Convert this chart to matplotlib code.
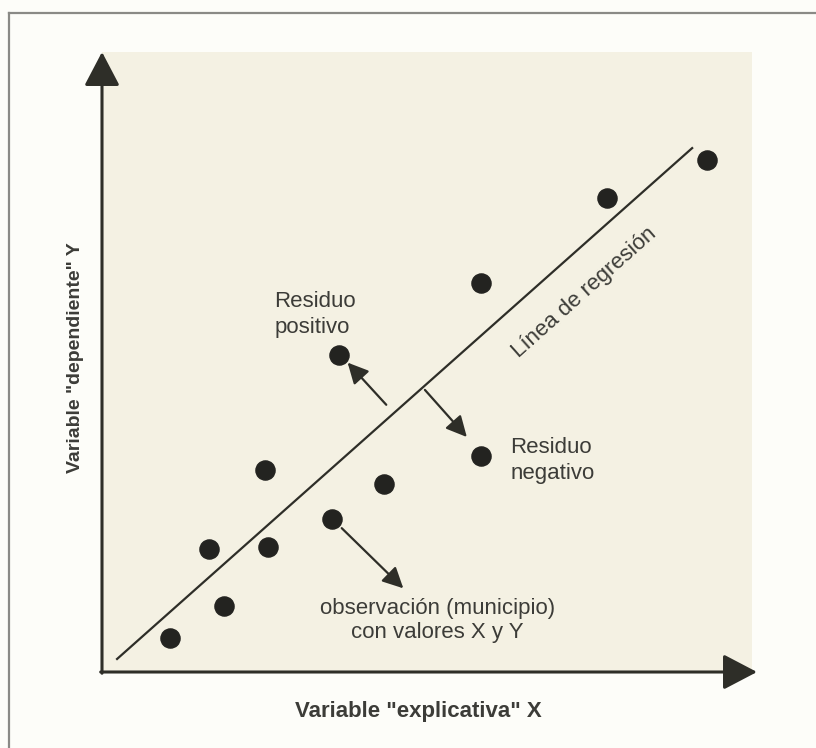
import matplotlib.pyplot as plt
from matplotlib.patches import Rectangle
from matplotlib.lines import Line2D

# observations (municipios), in axis units 0-10
obs_x = [1.04, 1.86, 1.63, 2.53, 2.49, 3.51, 4.31, 3.62, 5.79, 5.79, 7.71, 9.24]
obs_y = [0.55, 1.06, 1.98, 2.02, 3.26, 2.47, 3.03, 5.11, 3.48, 6.27, 7.65, 8.26]

# regression line end points
reg_x = [0.23, 9.01]
reg_y = [0.21, 8.45]

ink = '#2e2e28'
text_c = '#3c3c38'

plt.rcParams['font.family'] = ['Liberation Sans', 'DejaVu Sans']

fig = plt.figure(figsize=(8.16, 7.48), dpi=100, facecolor='#fdfdf9')
ax = fig.add_axes([102 / 816, 76 / 748, 655 / 816, 620 / 748])
ax.set_xlim(0, 10)
ax.set_ylim(0, 10)
ax.axis('off')

# outer frame (only top and left edges visible)
fig.add_artist(Line2D([9 / 816, 1.0], [1 - 13 / 748] * 2, color='#8a8a86', lw=1.6))
fig.add_artist(Line2D([9 / 816] * 2, [0.0, 1 - 13 / 748], color='#8a8a86', lw=1.6))

# beige panel
ax.add_patch(Rectangle((0, 0), 9.93, 10, facecolor='#f4f1e3', edgecolor='none', zorder=0))

# axes with arrow heads
big = dict(arrowstyle='-|>,head_length=1.05,head_width=0.55', color=ink, lw=2.2,
           mutation_scale=20, shrinkA=0, shrinkB=0)
ax.annotate('', xy=(10, 0), xytext=(-0.02, 0), arrowprops=big)
ax.annotate('', xy=(0, 10), xytext=(0, -0.02), arrowprops=big)

# regression line and points
ax.plot(reg_x, reg_y, color=ink, lw=1.6, zorder=2)
ax.scatter(obs_x, obs_y, s=190, color='#232320', zorder=3)

small = dict(arrowstyle='-|>,head_length=0.9,head_width=0.45', color=ink, lw=1.6,
             mutation_scale=14, shrinkA=0, shrinkB=0)
ax.annotate('', xy=(3.75, 4.99), xytext=(4.34, 4.31), arrowprops=small)
ax.annotate('', xy=(5.57, 3.79), xytext=(4.93, 4.55), arrowprops=small)
ax.annotate('', xy=(4.60, 1.35), xytext=(3.66, 2.32), arrowprops=small)

fs = 16
ax.text(2.63, 5.76, 'Residuo\npositivo', fontsize=fs, color=text_c, ha='left', va='center',
        linespacing=1.3)
ax.text(6.23, 3.41, 'Residuo\nnegativo', fontsize=fs, color=text_c, ha='left', va='center',
        linespacing=1.3)
ax.text(5.12, 0.83, 'observación (municipio)\ncon valores X y Y', fontsize=fs, color=text_c,
        ha='center', va='center', linespacing=1.2)
ax.text(7.37, 6.12, 'Línea de regresión', fontsize=fs, color=text_c, ha='center', va='center',
        rotation=41.6, rotation_mode='anchor')

fig.text(418 / 816, 1 - 712 / 748, 'Variable "explicativa" X', fontsize=16, fontweight='bold',
         color=text_c, ha='center', va='center')
fig.text(75 / 816, 1 - 358 / 748, 'Variable "dependiente" Y', fontsize=14, fontweight='bold',
         color=text_c, ha='center', va='center', rotation=90)

fig.savefig('out.png', dpi=100, facecolor=fig.get_facecolor())
